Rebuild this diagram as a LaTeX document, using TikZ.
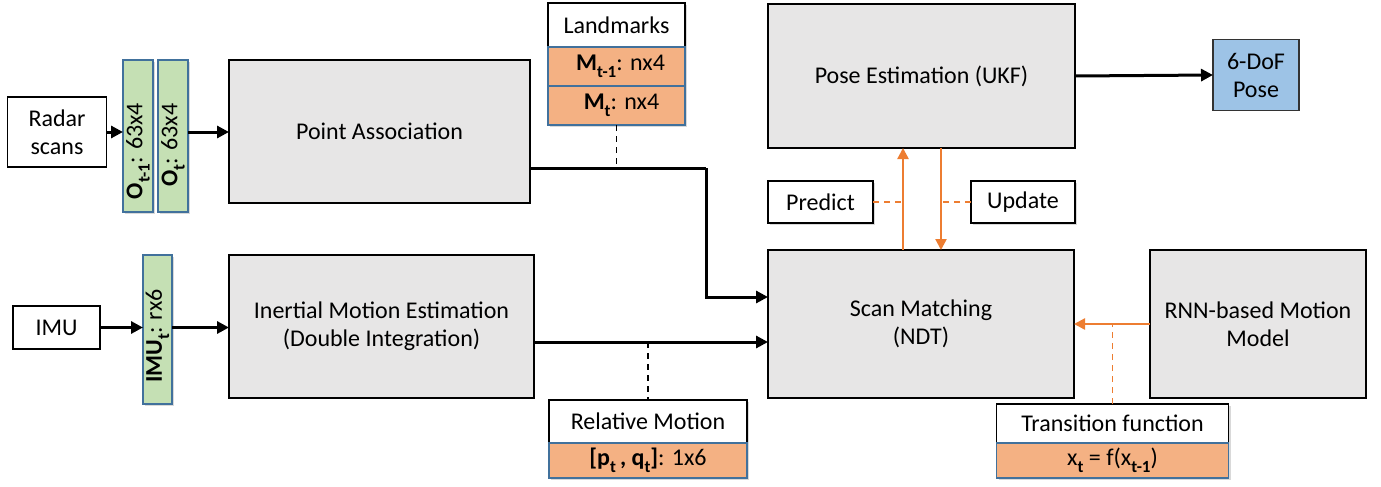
\documentclass[tikz,border=0pt]{standalone}
\usepackage{fontspec}
\usepackage{graphicx}
\setmainfont{Carlito}
\usetikzlibrary{arrows.meta,shadows}
\definecolor{boxgray}{HTML}{E7E6E6}
\definecolor{bargreen}{HTML}{C5E0B4}
\definecolor{cellorange}{HTML}{F4B183}
\definecolor{poseblue}{HTML}{9DC3E6}
\definecolor{edgeblue}{HTML}{41719C}
\definecolor{accent}{HTML}{ED7D31}
\newcommand{\lowsub}[1]{\raisebox{-0.3em}{\fontsize{17}{17}\selectfont\bfseries #1}}
\begin{document}
\begin{tikzpicture}[x=1pt,y=-1pt,
  every node/.style={font=\fontsize{24}{28}\selectfont, inner sep=0pt, outer sep=0pt},
  shad/.style={drop shadow={opacity=0.3, shadow xshift=2pt, shadow yshift=-2pt}},
  bigbox/.style={draw=black, line width=1.5pt, fill=boxgray, align=center},
  wbox/.style={draw=black, line width=1.5pt, fill=white, align=center},
  bar/.style={draw=edgeblue, line width=1.3pt, fill=bargreen, shad},
  cell/.style={draw=edgeblue, line width=1.3pt, fill=cellorange, align=center},
  flow/.style={line width=3pt, -{Triangle[length=12pt,width=12pt]}},
  oflow/.style={draw=accent, line width=2.4pt, -{Triangle[length=11pt,width=11pt]}},
  odash/.style={draw=accent, line width=1.5pt, dash pattern=on 6pt off 5pt},
  kdash/.style={draw=black, line width=1.5pt, dash pattern=on 6pt off 5pt}]
\useasboundingbox (0,0) rectangle (1381,487);

% left inputs
\node[wbox, minimum width=99, minimum height=70] (radar) at (57,132) {Radar\\scans};
\node[wbox, minimum width=87, minimum height=43] (imu) at (56.5,327.5) {IMU};

% bars
\node[bar, minimum width=30, minimum height=152] (o1) at (138,136) {\rotatebox{90}{\textbf{O}\lowsub{t-1}: 63x4\hspace*{30pt}}};
\node[bar, minimum width=30, minimum height=152] (o2) at (173,136) {\rotatebox{90}{\textbf{O}\lowsub{t}: 63x4\hspace*{18pt}}};
\node[bar, minimum width=29, minimum height=149] (imub) at (157.5,329.5) {\rotatebox{90}{\textbf{IMU}\lowsub{t}: rx6\hspace*{13pt}}};

% main boxes
\node[bigbox, minimum width=301, minimum height=143] (pa) at (379.5,131.5) {Point Association};
\node[bigbox, minimum width=305, minimum height=143] (ime) at (381.5,326.5) {Inertial Motion Estimation\\(Double Integration)};
\node[bigbox, minimum width=306, minimum height=148] (sm) at (921,324) {Scan Matching\\(NDT)};
\node[bigbox, minimum width=307, minimum height=144] (pe) at (921.5,76) {Pose Estimation (UKF)};
\node[bigbox, minimum width=216, minimum height=148] (rnn) at (1258,324) {RNN-based Motion\\Model};
\node[draw=black!80, line width=1.5pt, fill=poseblue, minimum width=86, minimum height=71, align=center] (pose) at (1256,75) {6-DoF\\Pose};

% landmarks
\node[wbox, shad, minimum width=137, minimum height=44] (lm) at (616.5,25) {Landmarks};
\node[cell, shad, minimum width=137, minimum height=39, anchor=north] (m1) at (lm.south) {\hspace*{8pt}\textbf{M}\lowsub{t-1}: nx4};
\node[cell, shad, minimum width=137, minimum height=39, anchor=north] (m2) at (m1.south) {\hspace*{10pt}\textbf{M}\lowsub{t}: nx4};

% relative motion
\node[wbox, shad, minimum width=198, minimum height=43] (rm) at (648,421.5) {Relative Motion};
\node[cell, shad, minimum width=198, minimum height=35, anchor=north] (rmv) at (rm.south) {\textbf{[p}\lowsub{t}\textbf{\,, q}\lowsub{t}\textbf{]}: 1x6};

% transition function
\node[wbox, shad, minimum width=232, minimum height=39] (tf) at (1112.5,423.5) {Transition function};
\node[cell, shad, minimum width=232, minimum height=35, anchor=north] (tfv) at (tf.south) {x\lowsub{t} = f(x\lowsub{t-1})};

% predict / update
\node[wbox, shad, minimum width=105, minimum height=42] (pred) at (820.5,202) {Predict};
\node[wbox, shad, minimum width=104, minimum height=42] (upd) at (1023,202) {Update};

% black flows
\draw[flow] (radar.east) -- (radar.east -| o1.west);
\draw[flow] (o2.east |- radar.east) -- (radar.east -| pa.west);
\draw[flow] (imu.east) -- (imu.east -| imub.west);
\draw[flow] (imub.east |- imu.east) -- (imu.east -| ime.west);
\coordinate (paout) at ([yshift=-36.5pt]pa.east);
\coordinate (bend) at (706,168);
\coordinate (smin) at ([yshift=27pt]sm.west);
\draw[line width=3pt] (paout) -- (bend);
\draw[flow] (bend) |- (smin);
\coordinate (imeout) at ([yshift=-15.5pt]ime.east);
\draw[flow] (imeout) -- (imeout -| sm.west);
\draw[flow] (pe.east) -- (pose.west);

% dashed black
\draw[kdash] (m2.south) -- (m2.south |- paout);
\draw[kdash] (imeout -| rm.north) -- (rm.north);

% orange
\coordinate (upx) at ([xshift=-18pt]sm.north);
\coordinate (dnx) at ([xshift=20pt]sm.north);
\draw[oflow] (upx) -- (upx |- pe.south);
\draw[oflow] (dnx |- pe.south) -- (dnx);
\draw[odash] (pred.east) -- (pred.east -| upx);
\draw[odash] (upd.west) -- (upd.west -| dnx);
\draw[oflow] (rnn.west) -- (rnn.west -| sm.east);
\draw[odash] (tf.north) -- (tf.north |- rnn.west);
\end{tikzpicture}
\end{document}
